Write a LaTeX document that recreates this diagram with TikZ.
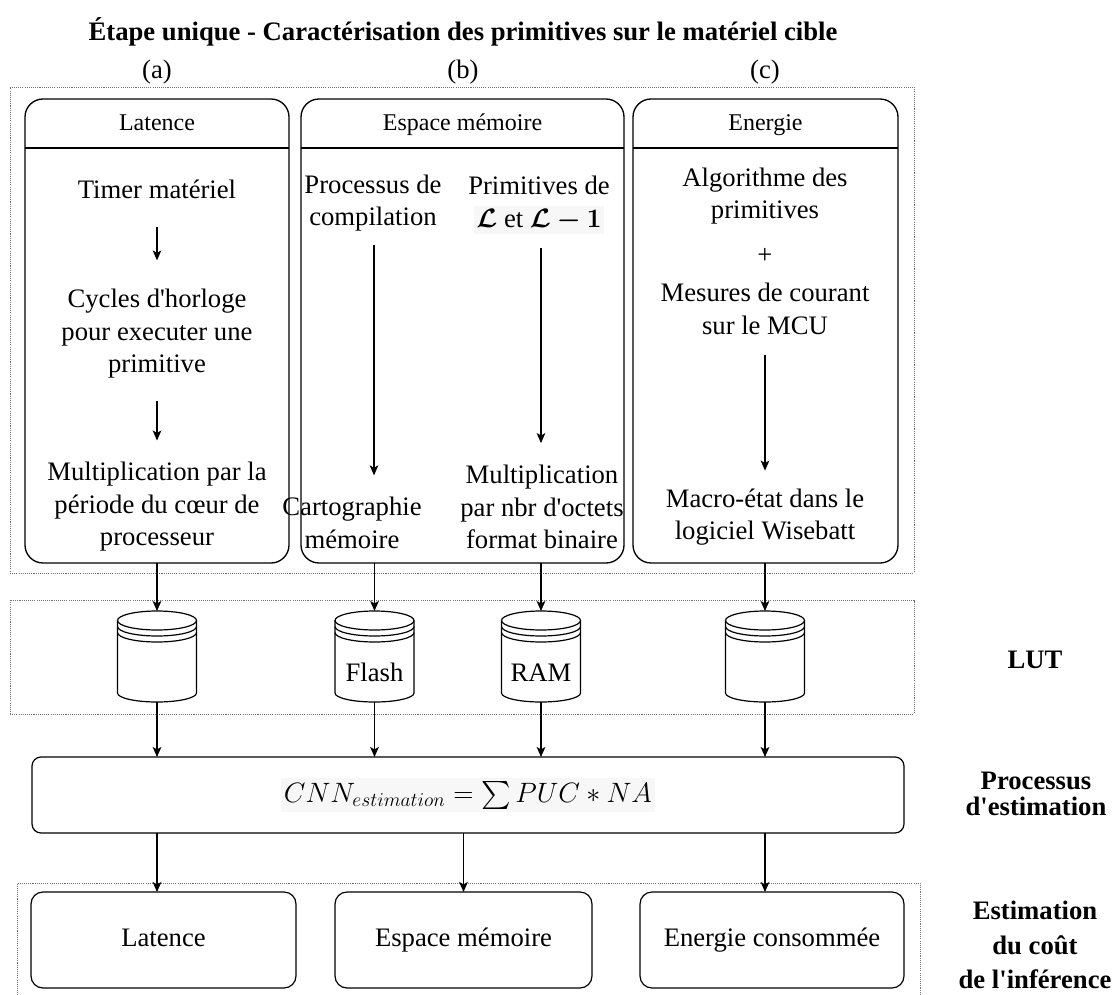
\documentclass[tikz,border=0pt]{standalone}
\usepackage{fix-cm}
\usepackage{amsmath,amssymb,bm}
\usepackage{fontspec}
\setmainfont{Liberation Serif}[Ligatures=TeXOff]
\usetikzlibrary{arrows.meta,calc}
\setlength{\fboxsep}{2pt}

% draws a data-store cylinder inside the bounds of node #1
\newcommand\dbshape[1]{%
  \draw[shapeline] ($(#1.north west)+(0,9.5)$) -- ($(#1.south west)+(0,-9)$)
    arc[start angle=180,end angle=360,x radius=29.625pt,y radius=6.75pt]
    -- ($(#1.north east)+(0,9.5)$);
  \draw[shapeline] ($(#1.north)+(0,9.5)$) ellipse[x radius=29.625pt,y radius=7.125pt];
  \draw[shapeline] ($(#1.north west)+(0,15.5)$)
    arc[start angle=180,end angle=360,x radius=29.625pt,y radius=7.125pt];
  \draw[shapeline] ($(#1.north west)+(0,21.5)$)
    arc[start angle=180,end angle=360,x radius=29.625pt,y radius=7.125pt];
}

\begin{document}
\begin{tikzpicture}[x=0.75pt,y=-0.75pt,
  every node/.style={inner sep=0pt,outer sep=0pt},
  body/.style={font=\fontsize{20}{24.4}\selectfont,align=center},
  headtxt/.style={font=\fontsize{18}{21.6}\selectfont,text height=12.5pt,text depth=4pt},
  side/.style={font=\bfseries\fontsize{20}{20}\selectfont,align=center},
  sidewide/.style={font=\bfseries\fontsize{20}{26}\selectfont,align=center},
  lane/.style={draw,line width=1pt,rounded corners=13.5pt,minimum width=#1,minimum height=348pt},
  outbox/.style={draw,line width=0.9pt,rounded corners=9pt,minimum width=#1,minimum height=72pt,
    font=\fontsize{20}{24.4}\selectfont,text height=13.5pt,text depth=4.5pt},
  group/.style={draw=black!55,line width=0.6pt,dash pattern=on 0.8pt off 0.8pt},
  lutnode/.style={minimum width=59.25pt,minimum height=68.25pt},
  shapeline/.style={line width=0.9pt},
  arr/.style={-{Stealth[length=7.5pt,width=6.5pt,inset=1.8pt]},line width=0.85pt},
]
\useasboundingbox (0,0) rectangle (1120,995);
\clip (0,0) rectangle (1120,995);

% dotted groups
\node[group,minimum width=678pt,minimum height=364.5pt] (gTop) at (462,330) {};
\node[group,minimum width=678pt,minimum height=85.5pt] (gLut) at (462,657) {};
\node[group,minimum width=677.25pt,minimum height=91.5pt] (gOut) at (468.5,944) {};

% title and column labels
\node[font=\bfseries\fontsize{20}{24}\selectfont] (title) at (463,32)
  {Étape unique - Caractérisation des primitives sur le matériel cible};
\node[body] (labA) at (157,72) {(a)};
\node[body] (labB) at (463,72) {(b)};
\node[body] (labC) at (765,72) {(c)};

% the three characterisation lanes
\node[lane=198pt] (laneA) at (157,331) {};
\node[lane=242.25pt] (laneB) at (462.5,331) {};
\node[lane=198.75pt] (laneC) at (765.5,331) {};
\coordinate (hdrline) at (0,148);
\draw[line width=1pt] (laneA.west |- hdrline) -- (laneA.east |- hdrline);
\draw[line width=1pt] (laneB.west |- hdrline) -- (laneB.east |- hdrline);
\draw[line width=1pt] (laneC.west |- hdrline) -- (laneC.east |- hdrline);
\node[headtxt] (hA) at (157,125) {Latence};
\node[headtxt] (hB) at (462.5,125) {Espace mémoire};
\node[headtxt] (hC) at (765.5,125) {Energie};

% lane (a)
\node[body] (timer) at (157,189) {Timer matériel};
\node[body] (cycles) at (157,334) {Cycles d'horloge\\pour executer une\\primitive};
\node[body] (mult) at (157,507) {Multiplication par la\\période du cœur de\\processeur};
\draw[arr] ($(timer.south)!.5!(cycles.north)+(0,-16.5)$) -- ++(0,33);
\draw[arr] ($(cycles.south)!.5!(mult.north)+(0,-20)$) -- ++(0,40);

% lane (b)
\node[body] (proc) at (373,203) {Processus de\\compilation};
\node[body] (prim) at (539,205) {Primitives de\\\colorbox{black!3}{$\boldsymbol{\mathcal{L}}$ et $\boldsymbol{\mathcal{L}-1}$}};
\node[body] (carto) at (352,523) {Cartographie\\mémoire};
\node[body] (multb) at (542,507) {Multiplication\\par nbr d'octets\\format binaire};
\draw[arr] ($(proc.south)+(1,14)$) -- ($(proc.south |- carto.north)+(1,-22)$);
\draw[arr] ($(prim.south)+(2,14)$) -- ($(prim.south |- multb.north)+(2,-22)$);

% lane (c)
\node[body] (algo) at (765,196) {Algorithme des\\primitives};
\node[body] (plus) at (765,256) {+};
\node[body] (mes) at (765,309) {Mesures de courant\\sur le MCU};
\node[body] (macro) at (765,517) {Macro-état dans le\\logiciel Wisebatt};
\draw[arr] ($(mes.south)+(0,20)$) -- ($(mes.south |- macro.north)+(0,-18)$);

% look-up tables
\node[lutnode] (lutA) at (157,656.5) {};
\node[lutnode] (lutB) at (374.5,656.5) {};
\node[lutnode] (lutC) at (541,656.5) {};
\node[lutnode] (lutD) at (765,656.5) {};
\dbshape{lutA}\dbshape{lutB}\dbshape{lutC}\dbshape{lutD}
\node[body] (flash) at ($(lutB.center)+(0,16)$) {Flash};
\node[body] (ram) at ($(lutC.center)+(0,16)$) {RAM};

\draw[arr] (laneA.south) -- (lutA.north);
\draw[arr] (laneB.south -| lutB.north) -- (lutB.north);
\draw[arr] (laneB.south -| lutC.north) -- (lutC.north);
\draw[arr] (laneC.south -| lutD.north) -- (lutD.north);

% estimation process
\node[draw,line width=0.9pt,rounded corners=6.75pt,minimum width=654pt,minimum height=57pt,
  font=\fontsize{21}{25}\selectfont] (est) at (468,795)
  {\colorbox{black!3}{$CNN_{estimation} = \sum PUC * NA$}};
\draw[arr] (lutA.south) -- (lutA.south |- est.north);
\draw[arr] (lutB.south) -- (lutB.south |- est.north);
\draw[arr] (lutC.south) -- (lutC.south |- est.north);
\draw[arr] (lutD.south) -- (lutD.south |- est.north);

% estimated inference cost
\node[outbox=198.75pt] (outA) at (163.5,940) {Latence};
\node[outbox=192.75pt] (outB) at (463.5,940) {Espace mémoire};
\node[outbox=198pt] (outC) at (772,940) {Energie consommée};
\draw[arr] (lutA.south |- est.south) -- (lutA.south |- outA.north);
\draw[arr] (outB.north |- est.south) -- (outB.north);
\draw[arr] (lutD.south |- est.south) -- (lutD.south |- outC.north);

% stage labels
\node[side] (lLut) at (1035,660) {LUT};
\node[side] (lEst) at (1036,794) {Processus\\d'estimation};
\node[sidewide] (lCost) at (1035,945) {Estimation\\du coût\\de l'inférence};
\end{tikzpicture}
\end{document}
